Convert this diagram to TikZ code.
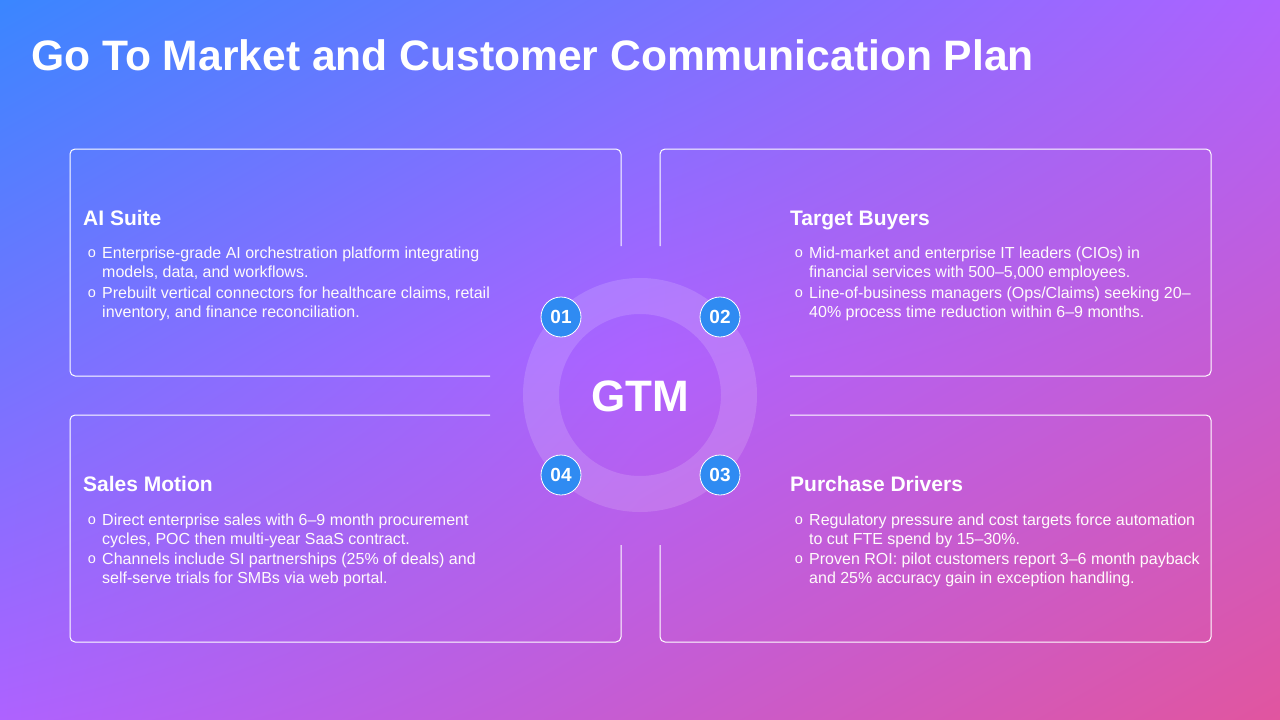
\documentclass[tikz,border=0pt]{standalone}
\usepackage{fontspec}
\setmainfont{Liberation Sans}
\usetikzlibrary{shadings}

\definecolor{bgblue}{HTML}{3A86FF}
\definecolor{bgpurple}{HTML}{AE62FF}
\definecolor{bgpink}{HTML}{E1559F}
\colorlet{bgab}{bgblue!50!bgpurple}
\colorlet{bgbc}{bgpurple!50!bgpink}
\definecolor{badgeblue}{HTML}{2F8BF2}

\tikzset{
  panel/.style={draw=white, line width=1pt, rounded corners=5pt},
  head/.style={anchor=base west, inner sep=0pt, text=white, font=\bfseries\fontsize{21}{25}\selectfont},
  item/.style={anchor=base west, inner sep=0pt, text=white!94!pink, align=left, font=\fontsize{16}{19}\selectfont},
  dot/.style={anchor=base, inner sep=0pt, text=white!94!pink, font=\fontsize{14.5}{16}\selectfont},
  badge/.style={circle, fill=badgeblue, draw=white, line width=0.8pt, minimum size=40pt, inner sep=0pt, text=white, font=\bfseries\fontsize{19}{22}\selectfont}
}

\begin{document}
\begin{tikzpicture}[x=1pt,y=-1pt]
  \useasboundingbox (0,0) rectangle (1280,720);
  % background, one four-colour patch per quarter
  \shade[upper left=bgblue, upper right=bgab, lower left=bgab, lower right=bgpurple] (0,0) rectangle (640,360);
  \shade[upper left=bgab, upper right=bgpurple, lower left=bgpurple, lower right=bgbc] (640,0) rectangle (1280,360);
  \shade[upper left=bgab, upper right=bgpurple, lower left=bgpurple, lower right=bgbc] (0,360) rectangle (640,720);
  \shade[upper left=bgpurple, upper right=bgbc, lower left=bgbc, lower right=bgpink] (640,360) rectangle (1280,720);

  \node[anchor=base west, inner sep=0pt, text=white, font=\bfseries\fontsize{42.6}{48}\selectfont] (title) at (31,70) {Go To Market and Customer Communication Plan};

  % panels, open at the corner next to the ring
  \draw[panel] (490,376) -- (70,376) -- (70,149) -- (621,149) -- (621,246);
  \draw[panel] (790,376) -- (1211,376) -- (1211,149) -- (660,149) -- (660,246);
  \draw[panel] (490,415) -- (70,415) -- (70,642) -- (621,642) -- (621,545);
  \draw[panel] (790,415) -- (1211,415) -- (1211,642) -- (660,642) -- (660,545);

  % ring and centre
  \fill[white, opacity=0.15, even odd rule] (640,395) circle (117pt) circle (81pt);
  \node[text=white, font=\bfseries\fontsize{44}{50}\selectfont] (gtm) at (640,396) {GTM};
  \node[badge] (b1) at (561,317) {01};
  \node[badge] (b2) at (720,317) {02};
  \node[badge] (b3) at (720,475) {03};
  \node[badge] (b4) at (561,475) {04};

  % AI Suite (items are placed on their last line)
  \node[head] (suite) at (83,225) {AI Suite};
  \node[dot] (suite1o) at (92,257) {o};
  \node[item] (suite1) at (102,277) {Enterprise-grade AI orchestration platform integrating\\models, data, and workflows.};
  \node[dot] (suite2o) at (92,297) {o};
  \node[item] (suite2) at (102,317) {Prebuilt vertical connectors for healthcare claims, retail\\inventory, and finance reconciliation.};

  % Target Buyers
  \node[head] (buyers) at (790,225) {Target Buyers};
  \node[dot] (buyers1o) at (799,257) {o};
  \node[item] (buyers1) at (809,277) {Mid-market and enterprise IT leaders (CIOs) in\\financial services with 500–5,000 employees.};
  \node[dot] (buyers2o) at (799,297) {o};
  \node[item] (buyers2) at (809,317) {Line-of-business managers (Ops/Claims) seeking 20–\\40\% process time reduction within 6–9 months.};

  % Sales Motion
  \node[head] (sales) at (83,491) {Sales Motion};
  \node[dot] (sales1o) at (92,524) {o};
  \node[item] (sales1) at (102,544) {Direct enterprise sales with 6–9 month procurement\\cycles, POC then multi-year SaaS contract.};
  \node[dot] (sales2o) at (92,563) {o};
  \node[item] (sales2) at (102,583) {Channels include SI partnerships (25\% of deals) and\\self-serve trials for SMBs via web portal.};

  % Purchase Drivers
  \node[head] (drivers) at (790,491) {Purchase Drivers};
  \node[dot] (drivers1o) at (799,524) {o};
  \node[item] (drivers1) at (809,544) {Regulatory pressure and cost targets force automation\\to cut FTE spend by 15–30\%.};
  \node[dot] (drivers2o) at (799,563) {o};
  \node[item] (drivers2) at (809,583) {Proven ROI: pilot customers report 3–6 month payback\\and 25\% accuracy gain in exception handling.};
\end{tikzpicture}
\end{document}
